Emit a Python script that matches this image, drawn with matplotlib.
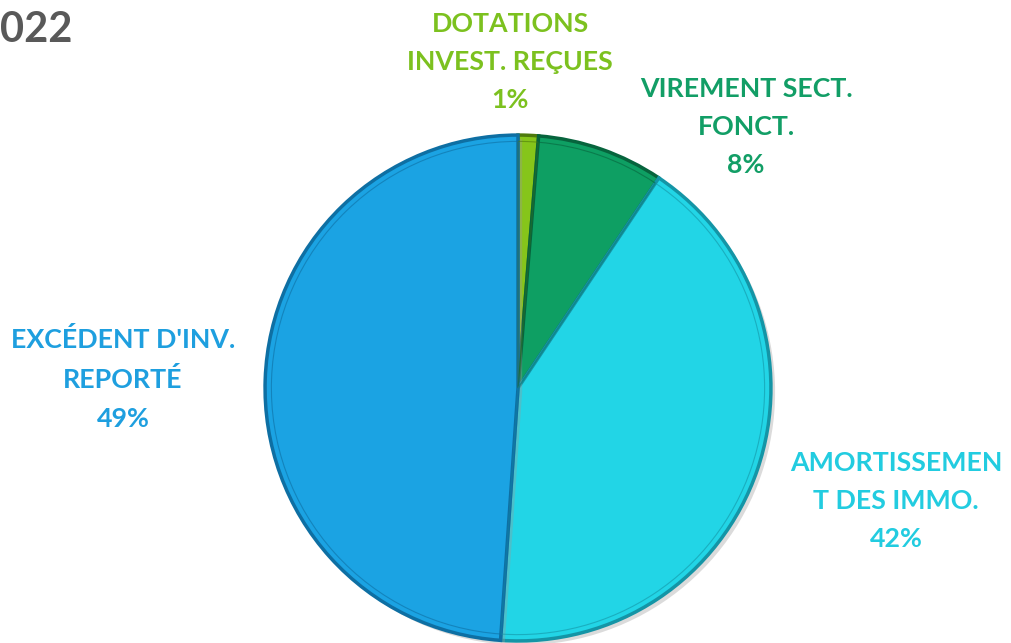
import matplotlib
matplotlib.use("Agg")
import matplotlib.pyplot as plt
import matplotlib.patheffects as pe

categories = ["DOTATIONS\nINVEST. REÇUES", "VIREMENT SECT.\nFONCT.", "AMORTISSEMEN\nT DES IMMO.", "EXCÉDENT D'INV.\nREPORTÉ"]
values = [1.3, 8.1, 41.7, 48.9]
pct_labels = ["1%", "8%", "42%", "49%"]
colors = ["#86C51A", "#0E9F63", "#22D5E6", "#1BA3E3"]
edge_colors = ["#4E7A0C", "#07643D", "#1495A6", "#0E6FA3"]
label_colors = ["#7CC11F", "#129E66", "#22CCE0", "#1E9FDF"]
title = "022"

W, H = 1011, 643
fig = plt.figure(figsize=(W / 100, H / 100), dpi=100)
fig.patch.set_facecolor("white")

cx, cy, r = 518, 388, 258
ax = fig.add_axes([(cx - r) / W, (H - cy - r) / H, 2 * r / W, 2 * r / H])
wedges, _ = ax.pie(values, colors=colors, startangle=90, counterclock=False, radius=1)
for w, ec in zip(wedges, edge_colors):
    w.set_edgecolor(ec)
    w.set_linewidth(2.5)
    w.set_path_effects([pe.SimplePatchShadow(offset=(3, -3), shadow_rgbFace="#999999", alpha=0.35), pe.Normal()])
# inner bevel line
inner, _ = ax.pie(values, colors=colors, startangle=90, counterclock=False, radius=0.975)
for w, ec in zip(inner, edge_colors):
    w.set_facecolor("none")
    w.set_edgecolor(ec)
    w.set_linewidth(0.8)
    w.set_alpha(0.6)
ax.set_xlim(-1.02, 1.02)
ax.set_ylim(-1.02, 1.02)
ax.set_aspect("equal")
ax.axis("off")

font = ["Lato", "DejaVu Sans"]
fig.text(0 / W, 1 - 30 / H, title, ha="left", va="center", fontsize=30,
         fontweight="bold", color="#595959", family=font)

label_pos = [(510, 62), (746, 127), (896, 501), (123, 379)]
for name, pct, col, (x, y) in zip(categories, pct_labels, label_colors, label_pos):
    fig.text(x / W, 1 - y / H, name + "\n" + pct, ha="center", va="center",
             fontsize=19.3, fontweight="bold", color=col, family=font, linespacing=1.72)

fig.savefig("out.png", dpi=100)
